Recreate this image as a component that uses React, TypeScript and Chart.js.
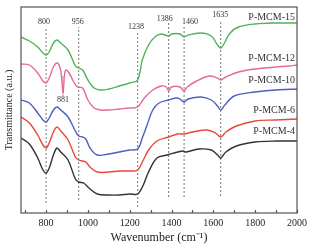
import React, { useEffect, useRef } from "react";
import { Chart, registerables } from "chart.js";

Chart.register(...registerables);

// Wavenumbers (cm^-1) sampled along each spectrum
const wnGreen = [680, 720, 760, 785, 800, 815, 835, 852, 870, 905, 940, 956, 975, 1000, 1030, 1060, 1100, 1150, 1200, 1238, 1260, 1290, 1320, 1350, 1386, 1400, 1440, 1460, 1480, 1540, 1590, 1620, 1635, 1650, 1680, 1720, 1800, 1900, 2000];
const valGreen = [176, 172, 166, 160, 158, 161, 170, 173, 170, 163, 147, 145, 143, 133, 125, 123, 124, 127, 130, 133, 153, 168, 176, 179, 177, 179, 179, 176, 178, 180, 177, 168, 165, 169, 180, 186, 189, 190, 190];

const wnPink = [680, 720, 760, 785, 800, 815, 835, 852, 866, 874, 878, 881, 884, 888, 895, 910, 930, 950, 975, 1000, 1030, 1060, 1100, 1150, 1200, 1238, 1270, 1310, 1350, 1375, 1386, 1400, 1440, 1460, 1475, 1520, 1580, 1620, 1635, 1660, 1720, 1800, 1900, 1960, 2000];
const valPink = [149, 148, 140, 132, 130, 135, 146, 150, 146, 136, 125, 120, 126, 138, 143, 140, 132, 126, 125, 113, 105, 103, 103, 104, 105, 106, 115, 123, 127, 126, 122, 126, 126, 122, 126, 132, 137, 135, 133, 136, 141, 144, 146, 147, 148];

const wnBlue = [680, 720, 760, 785, 800, 815, 835, 852, 870, 905, 940, 956, 975, 990, 1010, 1045, 1100, 1150, 1200, 1238, 1260, 1283, 1310, 1340, 1386, 1430, 1460, 1480, 1540, 1590, 1620, 1635, 1655, 1700, 1800, 1900, 2000];
const valBlue = [113, 110, 100, 93, 91, 95, 103, 106, 103, 96, 82, 77, 76, 74, 65, 58, 59, 61, 63, 64, 75, 88, 103, 110, 113, 115, 111, 114, 116, 113, 107, 103, 108, 117, 121, 123, 124];

const wnRed = [680, 720, 760, 785, 800, 815, 835, 852, 870, 905, 940, 956, 975, 990, 1010, 1045, 1100, 1150, 1200, 1238, 1265, 1290, 1330, 1386, 1430, 1460, 1500, 1570, 1610, 1635, 1660, 1710, 1800, 1900, 2000];
const valRed = [96, 90, 78, 68, 65, 70, 81, 86, 82, 73, 56, 53, 52, 51, 46, 41, 41, 42, 42, 43, 53, 63, 72, 76, 79, 79, 81, 83, 80, 76, 81, 87, 92, 93, 94];

const wnBlack = [680, 720, 760, 785, 800, 815, 835, 852, 870, 905, 940, 956, 980, 1000, 1045, 1100, 1150, 1200, 1238, 1265, 1290, 1330, 1380, 1430, 1455, 1470, 1530, 1590, 1620, 1635, 1660, 1710, 1800, 1900, 2000];
const valBlack = [75, 69, 55, 43, 40, 45, 58, 65, 61, 53, 34, 31, 30, 26, 19, 18, 18, 19, 19, 28, 41, 55, 58, 61, 62, 61, 64, 63, 58, 55, 61, 67, 71, 72, 72];

const seriesNames = ["P-MCM-15", "P-MCM-12", "P-MCM-10", "P-MCM-6", "P-MCM-4"];
const seriesColors = ["#4db45a", "#e56b92", "#4c5fc0", "#e8483a", "#333333"];
const seriesLabelY = [196, 155, 133, 103, 82];

// Marked bands
const bandPositions = [800, 956, 1238, 1386, 1460, 1635];
const bandLabels = ["800", "956", "1238", "1386", "1460", "1635"];
const bandLabelX = [790, 952, 1230, 1368, 1488, 1633];
const bandTop = [186, 186, 181, 190, 188, 193];
const bandBottom = [10, 13, 6, 16, 16, 17];
const bandLabelY = [191, 191, 186, 194, 191, 198];

const band881 = 881;
const band881Label = "881";
const band881Range = [117, 138];
const band881LabelY = 113;

const xTicks = [800, 1000, 1200, 1400, 1600, 1800, 2000];
const xMinorTicks = [700, 800, 900, 1000, 1100, 1200, 1300, 1400, 1500, 1600, 1700, 1800, 1900, 2000];
const xMin = 680;
const xMax = 2000;

const serif = "'Liberation Serif', 'Times New Roman', serif";

function pts(xs: number[], ys: number[]) {
  return xs.map((x, i) => ({ x, y: ys[i] }));
}

export default function App() {
  const ref = useRef<HTMLCanvasElement | null>(null);

  useEffect(() => {
    if (!ref.current) return;
    const spectra = [
      pts(wnGreen, valGreen),
      pts(wnPink, valPink),
      pts(wnBlue, valBlue),
      pts(wnRed, valRed),
      pts(wnBlack, valBlack),
    ];
    const datasets: any[] = spectra.map((d, i) => ({
      label: seriesNames[i],
      data: d,
      borderColor: seriesColors[i],
      borderWidth: 1.4,
      pointRadius: 0,
      fill: false,
      tension: 0.35,
    }));
    bandPositions.forEach((b, i) => {
      datasets.push({
        label: "band" + bandLabels[i],
        data: [
          { x: b, y: bandBottom[i] },
          { x: b, y: bandTop[i] },
        ],
        borderColor: "#777777",
        borderWidth: 1,
        borderDash: [2, 2],
        pointRadius: 0,
        fill: false,
      });
    });
    datasets.push({
      label: "band881",
      data: [
        { x: band881, y: band881Range[0] },
        { x: band881, y: band881Range[1] },
      ],
      borderColor: "#d84c8c",
      borderWidth: 1,
      borderDash: [1.5, 1.5],
      pointRadius: 0,
      fill: false,
    });

    const annot = {
      id: "annot",
      afterDatasetsDraw(chart: any) {
        const { ctx, chartArea, scales } = chart;
        const xs = scales.x;
        const ys = scales.y;
        ctx.save();
        // frame
        ctx.strokeStyle = "#555555";
        ctx.lineWidth = 1.2;
        ctx.strokeRect(chartArea.left, chartArea.top, chartArea.right - chartArea.left, chartArea.bottom - chartArea.top);
        // inward ticks
        ctx.beginPath();
        xMinorTicks.forEach((t) => {
          const px = Math.round(xs.getPixelForValue(t)) + 0.5;
          ctx.moveTo(px, chartArea.bottom);
          ctx.lineTo(px, chartArea.bottom - 3);
        });
        ctx.stroke();
        // band labels
        ctx.fillStyle = "#333333";
        ctx.font = "8px " + serif;
        ctx.textAlign = "center";
        ctx.textBaseline = "middle";
        bandPositions.forEach((b, i) => {
          ctx.fillText(bandLabels[i], xs.getPixelForValue(bandLabelX[i]), ys.getPixelForValue(bandLabelY[i]));
        });
        ctx.fillText(band881Label, xs.getPixelForValue(band881), ys.getPixelForValue(band881LabelY));
        // series labels
        ctx.font = "10px " + serif;
        ctx.textAlign = "right";
        seriesNames.forEach((n, i) => {
          ctx.fillText(n, chartArea.right - 2, ys.getPixelForValue(seriesLabelY[i]));
        });
        ctx.restore();
      },
    };

    const chart = new Chart(ref.current, {
      type: "line",
      data: { datasets },
      plugins: [annot],
      options: {
        animation: false,
        responsive: false,
        layout: { padding: { top: 7, right: 22, left: 0, bottom: 0 } },
        plugins: { legend: { display: false }, tooltip: { enabled: false } },
        scales: {
          x: {
            type: "linear",
            min: xMin,
            max: xMax,
            afterBuildTicks: (s: any) => {
              s.ticks = xTicks.map((v) => ({ value: v }));
            },
            afterFit: (s: any) => {
              s.height = 37;
            },
            grid: { display: false, drawTicks: false },
            border: { display: false },
            ticks: {
              padding: 4,
              color: "#222222",
              font: { family: serif, size: 10 },
              maxRotation: 0,
              autoSkip: false,
              callback: (v: any) => String(v),
            },
            title: {
              display: true,
              text: "Wavenumber (cm\u207B\u00B9)",
              color: "#222222",
              font: { family: serif, size: 12 },
              padding: { top: 0, bottom: 5 },
            },
          },
          y: {
            type: "linear",
            min: 0,
            max: 206,
            afterFit: (s: any) => {
              s.width = 21;
            },
            grid: { display: false, drawTicks: false },
            border: { display: false },
            ticks: { display: false },
            title: {
              display: true,
              text: "Transmittance (a.u.)",
              color: "#222222",
              font: { family: serif, size: 10 },
              padding: { top: 3, bottom: 0 },
            },
          },
        },
      },
    });
    return () => chart.destroy();
  }, []);

  return (
    <div style={{ position: "absolute", left: 0, top: 0, width: 319, height: 250, background: "#ffffff" }}>
      <canvas ref={ref} width={319} height={250} style={{ width: 319, height: 250, display: "block" }} />
    </div>
  );
}
